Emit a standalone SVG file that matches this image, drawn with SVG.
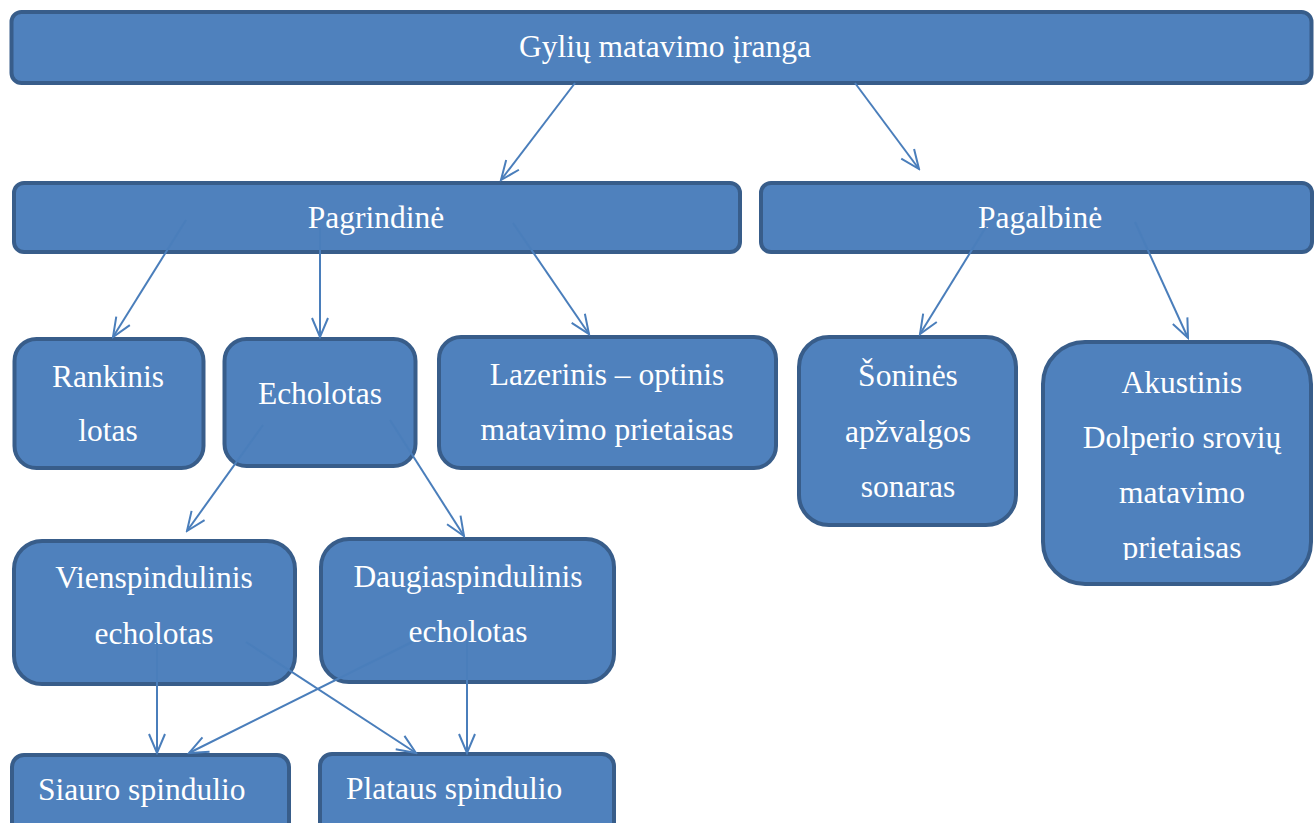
<svg xmlns="http://www.w3.org/2000/svg" width="1315" height="823" viewBox="0 0 1315 823">
<style>
.box{fill:#4F81BD;stroke:#385D8A;stroke-width:4}
.t{font-family:"Liberation Serif","Times New Roman",serif;font-size:31.5px;fill:#FFFFFF;text-anchor:middle}
.tl{font-family:"Liberation Serif","Times New Roman",serif;font-size:31.5px;fill:#FFFFFF}
.c{stroke:#4A7EBB;stroke-width:2;fill:none;marker-end:url(#arr)}
</style>
<defs>
<marker id="arr" markerUnits="userSpaceOnUse" markerWidth="24" markerHeight="24" viewBox="-22 -12 24 24" refX="0" refY="0" orient="auto">
<path d="M-19,-8 L0,0 L-19,8" fill="none" stroke="#4A7EBB" stroke-width="2"/>
</marker>
<clipPath id="clipAk"><rect x="1030" y="330" width="290" height="230"/></clipPath>
</defs>
<rect width="1315" height="823" fill="#FFFFFF"/>
<g id="n-gyliu">
<rect class="box" x="11.5" y="12" width="1300" height="71" rx="10"/>
<text class="t" x="665" y="57">Gylių matavimo įranga</text>
</g>
<g id="n-pagrindine">
<rect class="box" x="14" y="183" width="726" height="69" rx="10"/>
<text class="t" x="376" y="228">Pagrindinė</text>
</g>
<g id="n-pagalbine">
<rect class="box" x="761" y="183" width="551" height="69" rx="10"/>
<text class="t" x="1040" y="228">Pagalbinė</text>
</g>
<g id="n-rankinis">
<rect class="box" x="14.5" y="339" width="189" height="129" rx="22"/>
<text class="t" x="108" y="387">Rankinis</text>
<text class="t" x="108" y="441">lotas</text>
</g>
<g id="n-echolotas">
<rect class="box" x="224.5" y="339" width="191" height="127" rx="22"/>
<text class="t" x="320" y="404">Echolotas</text>
</g>
<g id="n-lazerinis">
<rect class="box" x="439" y="337" width="337" height="131" rx="22"/>
<text class="t" x="607" y="385">Lazerinis – optinis</text>
<text class="t" x="607" y="440">matavimo prietaisas</text>
</g>
<g id="n-soonines">
<rect class="box" x="799" y="337" width="217" height="188" rx="30"/>
<text class="t" x="908" y="386">Šoninės</text>
<text class="t" x="908" y="442">apžvalgos</text>
<text class="t" x="908" y="497">sonaras</text>
</g>
<g id="n-akustinis">
<rect class="box" x="1043" y="342" width="268" height="242" rx="42"/>
<g clip-path="url(#clipAk)">
<text class="t" x="1182" y="393">Akustinis</text>
<text class="t" x="1182" y="448">Dolperio srovių</text>
<text class="t" x="1182" y="503">matavimo</text>
<text class="t" x="1182" y="558">prietaisas</text>
</g>
</g>
<g id="n-vienspindulinis">
<rect class="box" x="14" y="541" width="281" height="143" rx="28"/>
<text class="t" x="154" y="588">Vienspindulinis</text>
<text class="t" x="154" y="644">echolotas</text>
</g>
<g id="n-daugiaspindulinis">
<rect class="box" x="321" y="539" width="293" height="143" rx="28"/>
<text class="t" x="468" y="587">Daugiaspindulinis</text>
<text class="t" x="468" y="642">echolotas</text>
</g>
<g id="n-siauro">
<rect class="box" x="12" y="755" width="277" height="80" rx="12"/>
<text class="tl" x="38" y="800">Siauro spindulio</text>
</g>
<g id="n-plataus">
<rect class="box" x="320" y="754" width="294" height="80" rx="12"/>
<text class="tl" x="346" y="799">Plataus spindulio</text>
</g>
<g id="connectors">
<line class="c" x1="575" y1="83" x2="501" y2="180"/>
<line class="c" x1="855" y1="83" x2="919" y2="169"/>
<line class="c" x1="186" y1="220" x2="113" y2="337"/>
<line class="c" x1="320" y1="228" x2="320" y2="337"/>
<line class="c" x1="513" y1="223" x2="589" y2="334"/>
<line class="c" x1="986" y1="227" x2="920" y2="334"/>
<line class="c" x1="1135" y1="222" x2="1188" y2="338"/>
<line class="c" x1="263" y1="425" x2="187" y2="531"/>
<line class="c" x1="390" y1="420" x2="464" y2="536"/>
<line class="c" x1="157" y1="643" x2="157" y2="753"/>
<line class="c" x1="467" y1="640" x2="467" y2="753"/>
<line class="c" x1="246" y1="642" x2="416" y2="753"/>
<line class="c" x1="412" y1="642" x2="189" y2="753"/>
</g>
</svg>
